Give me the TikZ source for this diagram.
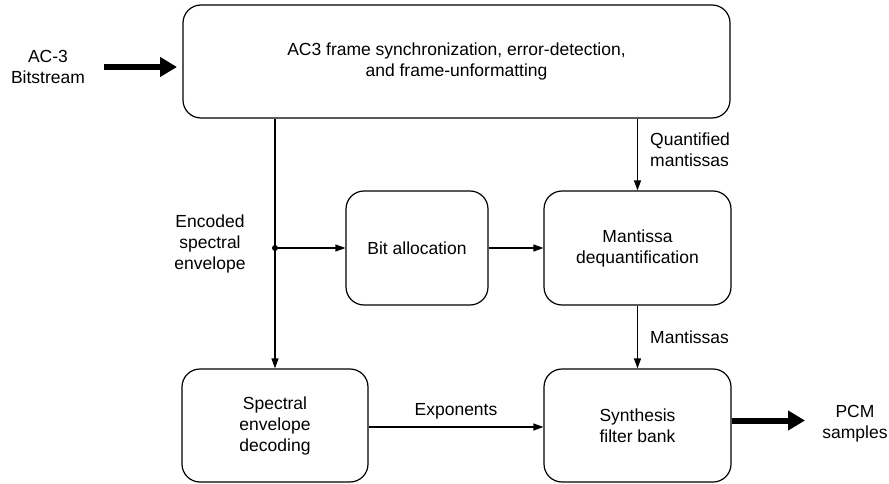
\documentclass[tikz,border=0pt]{standalone}
\usepackage{fontspec}
\setmainfont{Liberation Sans}
\usetikzlibrary{arrows.meta}
\begin{document}
\begin{tikzpicture}[x=1pt,y=-1pt,
  every node/.style={font=\fontsize{17.5}{21}\selectfont, inner sep=0pt},
  blk/.style={draw, line width=1.2pt, rounded corners=18pt, align=center},
  lbl/.style={align=center},
  thin/.style={line width=1.2pt, -{Triangle[length=10pt,width=7pt]}},
  thick/.style={line width=6pt, -{Triangle[length=17pt,width=19pt]}}]
\useasboundingbox (0,0) rectangle (889,484);
\node[blk, minimum width=547pt, minimum height=113pt] (top) at (456.5,61.5)
  {AC3 frame synchronization, error-detection,\\and frame-unformatting};
\node[blk, minimum width=142pt, minimum height=114pt] (bit) at (417,248) {Bit allocation};
\node[blk, minimum width=187pt, minimum height=114pt] (mant) at (637.5,248) {Mantissa\\dequantification};
\node[blk, minimum width=186pt, minimum height=113pt] (spec) at (275,425.5) {Spectral\\envelope\\decoding};
\node[blk, minimum width=187pt, minimum height=113pt] (syn) at (637.5,425.5) {Synthesis\\filter bank};

\node[lbl] (in) at (48,67) {AC-3\\Bitstream};
\node[lbl] (out) at (855,424) {PCM\\samples};
\coordinate (inS) at (104,67);
\coordinate (inE) at (177,67);
\coordinate (outS) at ([yshift=-5pt]syn.east);
\coordinate (outE) at (805,420.5);
\draw[thick] (inS) -- (inE);
\draw[thick] (syn.east |- outE) -- (outE);

\coordinate (topL) at (top.south -| spec.north);
\coordinate (dot) at (spec.north |- bit.west);
\draw[thin] (topL) -- (spec.north);
\fill (dot) circle (3pt);
\draw[thin] (dot) -- (bit.west);
\draw[thin] (bit.east) -- (mant.west);
\draw[thin] (top.south -| mant.north) -- (mant.north);
\draw[thin] (mant.south) -- (syn.north);
\draw[thin] (spec.east |- 0,427) -- (syn.west |- 0,427);

\node[lbl] (enc) at (210,244) {Encoded\\spectral\\envelope};
\node[align=left, anchor=west] (qm) at (650,150) {Quantified\\mantissas};
\node[anchor=west] (mm) at (650,337) {Mantissas};
\node (exp) at (456,411) {Exponents};
\end{tikzpicture}
\end{document}
